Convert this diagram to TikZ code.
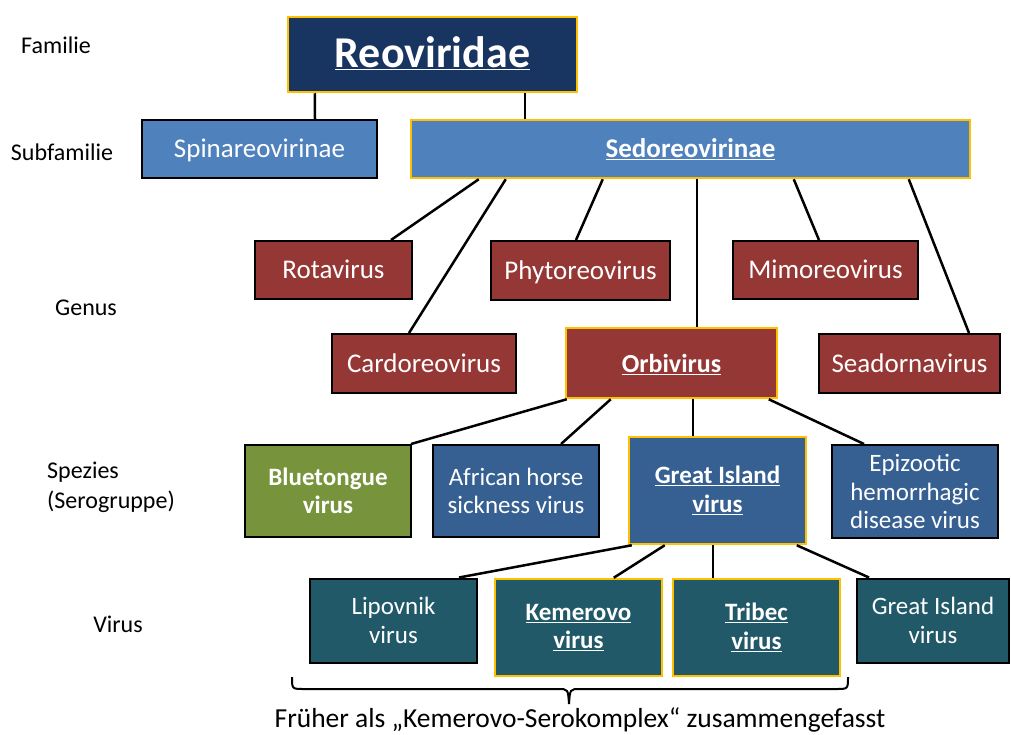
\documentclass[tikz,border=0pt]{standalone}
\usepackage{fontspec}
\setmainfont{Carlito}
\usetikzlibrary{calc}
\definecolor{navy}{RGB}{24,52,96}
\definecolor{sky}{RGB}{79,129,189}
\definecolor{dred}{RGB}{149,55,53}
\definecolor{ogreen}{RGB}{119,147,60}
\definecolor{oblue}{RGB}{54,96,146}
\definecolor{oteal}{RGB}{33,89,104}
\definecolor{gold}{RGB}{255,192,0}
\tikzset{
  box/.style={draw=black, line width=2pt, text=white, inner sep=0pt, align=center},
  one/.style={text height=17.5pt, text depth=0pt},
  big/.style={font=\fontsize{27}{30}\selectfont},
  bigb/.style={font=\fontsize{27}{30}\selectfont\bfseries},
  sml/.style={font=\fontsize{25}{28.5}\selectfont},
  smlb/.style={font=\fontsize{25}{28.5}\selectfont\bfseries},
  hl/.style={draw=gold, line width=2.5pt},
  conn/.style={line width=2.5pt, black},
  lab/.style={font=\fontsize{24}{30}\selectfont, text=black, inner sep=0pt},
}
\begin{document}
\begin{tikzpicture}[x=1pt,y=-1pt]
\useasboundingbox (0,0) rectangle (1011,734);
% nodes
\node[box,hl,text height=26pt,text depth=0pt,fill=navy,minimum width=289pt,minimum height=75pt,font=\fontsize{44}{48}\selectfont\bfseries] (reo) at (432.5,54.5) {\underline{Reoviridae}};
\node[box,one,big,fill=sky,minimum width=235pt,minimum height=58pt] (spina) at (259.5,149) {Spinareovirinae};
\node[box,hl,one,bigb,fill=sky,minimum width=559pt,minimum height=58pt] (sedo) at (690.5,149) {\underline{Sedoreovirinae}};
\node[box,one,big,fill=dred,minimum width=157pt,minimum height=58pt] (rota) at (333.5,270) {Rotavirus};
\node[box,one,big,fill=dred,minimum width=179pt,minimum height=59pt] (phyto) at (580.5,270.5) {Phytoreovirus};
\node[box,one,big,fill=dred,minimum width=185pt,minimum height=58pt] (mimo) at (825.5,270) {Mimoreovirus};
\node[box,one,big,fill=dred,minimum width=184pt,minimum height=59pt] (cardo) at (424,363.5) {Cardoreovirus};
\node[box,hl,text height=19pt,text depth=0pt,font=\fontsize{26}{30}\selectfont\bfseries,fill=dred,minimum width=211pt,minimum height=70pt] (orbi) at (671.5,363) {\underline{Orbivirus}};
\node[box,one,big,fill=dred,minimum width=181pt,minimum height=59pt] (seador) at (909.5,363.5) {Seadornavirus};
\node[box,smlb,fill=ogreen,minimum width=166pt,minimum height=92pt] (blue) at (328,491) {Bluetongue\\virus};
\node[box,sml,fill=oblue,minimum width=166pt,minimum height=92pt] (afr) at (516,491) {African horse\\sickness virus};
\node[box,hl,smlb,fill=oblue,minimum width=177pt,minimum height=107pt] (gis) at (717.5,490.5) {\underline{Great Island}\\\underline{virus}};
\node[box,sml,fill=oblue,minimum width=166pt,minimum height=93pt] (epi) at (915,491.5) {Epizootic\\hemorrhagic\\disease virus};
\node[box,sml,fill=oteal,minimum width=167pt,minimum height=84pt] (lipo) at (393.5,620.5) {Lipovnik\\virus};
\node[box,hl,smlb,fill=oteal,minimum width=167pt,minimum height=97pt] (keme) at (578.5,627.5) {\underline{Kemerovo}\\\underline{virus}};
\node[box,hl,smlb,fill=oteal,minimum width=167pt,minimum height=97pt] (tribec) at (756.5,627.5) {\underline{Tribec}\\\underline{virus}};
\node[box,sml,fill=oteal,minimum width=152pt,minimum height=84pt] (giv) at (933,620.5) {Great Island\\virus};
% connectors
\draw[conn] ([xshift=28pt]reo.south west) -- ([xshift=174pt]spina.north west);
\draw[conn] ([xshift=238pt]reo.south west) -- ([xshift=115pt]sedo.north west);
\draw[conn] ([xshift=69pt]sedo.south west) -- ([xshift=137pt]rota.north west);
\draw[conn] ([xshift=96pt]sedo.south west) -- ([xshift=78pt]cardo.north west);
\draw[conn] ([xshift=193pt]sedo.south west) -- ([xshift=86pt]phyto.north west);
\draw[conn] ([xshift=287pt]sedo.south west) -- ([xshift=132pt]orbi.north west);
\draw[conn] ([xshift=384pt]sedo.south west) -- ([xshift=87pt]mimo.north west);
\draw[conn] ([xshift=499pt]sedo.south west) -- ([xshift=151pt]seador.north west);
\draw[conn] ([xshift=2pt]orbi.south west) -- ([xshift=-1pt]blue.north east);
\draw[conn] ([xshift=46pt]orbi.south west) -- ([xshift=129pt]afr.north west);
\draw[conn] ([xshift=128pt]orbi.south west) -- ([xshift=65pt]gis.north west);
\draw[conn] ([xshift=204pt]orbi.south west) -- ([xshift=33pt]epi.north west);
\draw[conn] ([xshift=4pt]gis.south west) -- ([xshift=150pt]lipo.north west);
\draw[conn] ([xshift=37pt]gis.south west) -- ([xshift=120pt]keme.north west);
\draw[conn] ([xshift=85pt]gis.south west) -- ([xshift=41pt]tribec.north west);
\draw[conn] ([xshift=169pt]gis.south west) -- ([xshift=13pt]giv.north west);
% brace
\coordinate (bl) at (292,677);
\coordinate (bm) at (569,704);
\coordinate (br) at (848,677);
\draw[line width=2pt,black] (bl) .. controls (292,689) .. (304,689) -- (558,689) .. controls (568,689) .. (bm)
  .. controls (570,689) .. (580,689) -- (836,689) .. controls (848,689) .. (br);
\node[font=\fontsize{27.5}{30}\selectfont,inner sep=0pt] (note) at (580,720) {Früher als „Kemerovo-Serokomplex“ zusammengefasst};
% left labels
\node[lab] (lfam) at (56,45) {Familie};
\node[lab] (lsub) at (62,152) {Subfamilie};
\node[lab] (lgen) at (86,308) {Genus};
\node[lab,anchor=west,align=left] (lspe) at (47,487) {Spezies\\(Serogruppe)};
\node[lab] (lvir) at (118,624) {Virus};
\end{tikzpicture}
\end{document}
